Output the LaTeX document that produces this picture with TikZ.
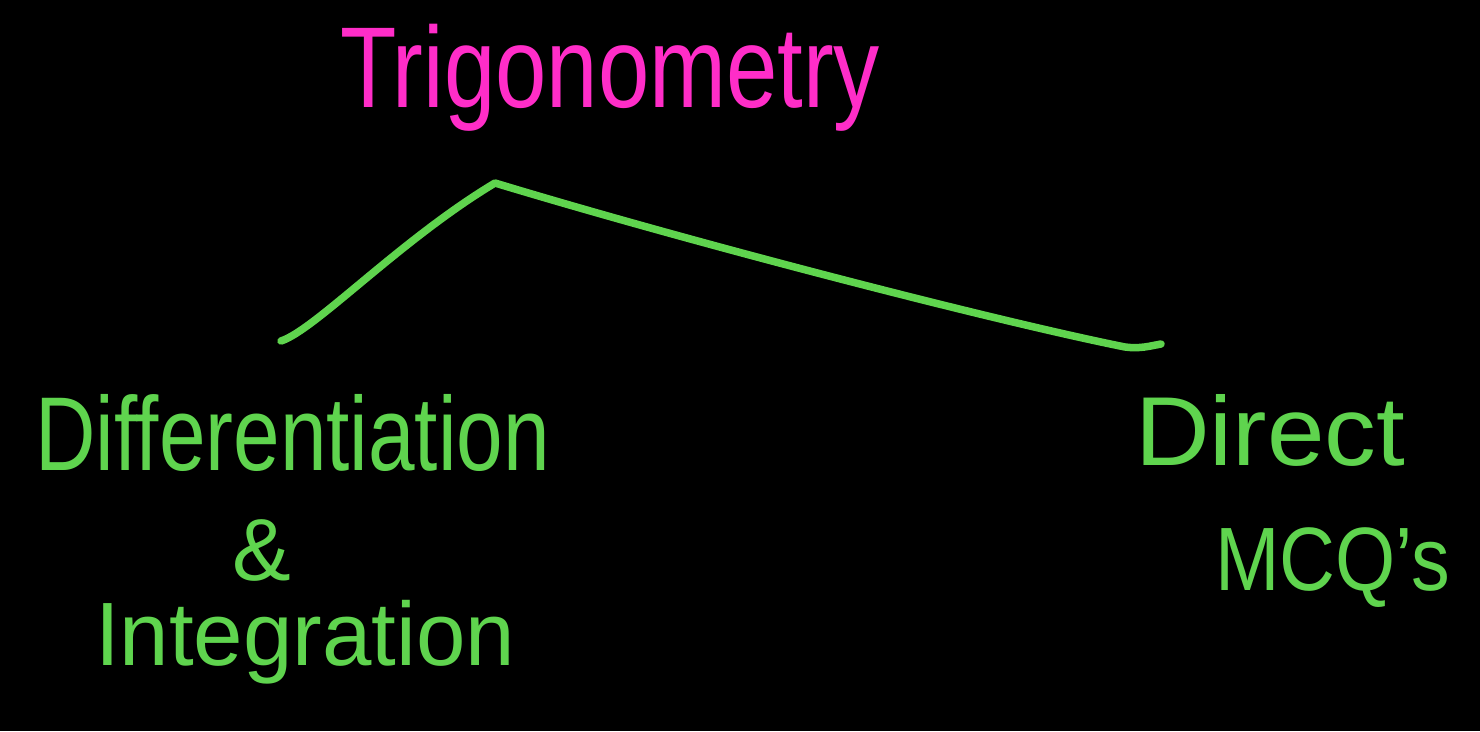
\documentclass[tikz,border=0pt]{standalone}
\usepackage{fontspec}
\setmainfont{Liberation Sans}
\usepackage{graphicx}
\definecolor{inkpink}{RGB}{255,45,200}
\definecolor{inkgreen}{RGB}{95,212,78}
\newcommand{\fitw}[3]{\resizebox{#1}{\height}{\fontsize{#2}{#2}\selectfont #3}}
\begin{document}
\begin{tikzpicture}[x=1pt,y=-1pt,
  lbl/.style={inner sep=0pt, outer sep=0pt, anchor=base west},
  stroke/.style={draw=inkgreen, line width=7.5pt, line cap=round, line join=round}]
\fill[black] (0,0) rectangle (1480,731);
\useasboundingbox (0,0) rectangle (1480,731);
% texts
\node[lbl, text=inkpink] (trig) at (340,107) {\fitw{540pt}{115}{Trigonometry}};
\node[lbl, text=inkgreen] (diff) at (35,470) {\fitw{515pt}{105}{Differentiation}};
\node[lbl, text=inkgreen] (amp) at (232,580) {\fontsize{88}{88}\selectfont\&};
\node[lbl, text=inkgreen] (integ) at (95,665) {\fitw{420pt}{90}{Integration}};
\node[lbl, text=inkgreen] (direct) at (1135,465) {\fitw{270pt}{98}{Direct}};
\node[lbl, text=inkgreen] (mcq) at (1215,590) {\fitw{235pt}{90}{MCQ's}};
% connector
\coordinate (apex) at (495,183);
\coordinate (lend) at (281,341);
\coordinate (rend) at (1161,344);
\draw[stroke] (lend) .. controls (315,330) and (400,240) .. (apex)
  .. controls (700,245) and (1000,322) .. (1125,347)
  .. controls (1140,349) and (1150,346) .. (rend);
\end{tikzpicture}
\end{document}
